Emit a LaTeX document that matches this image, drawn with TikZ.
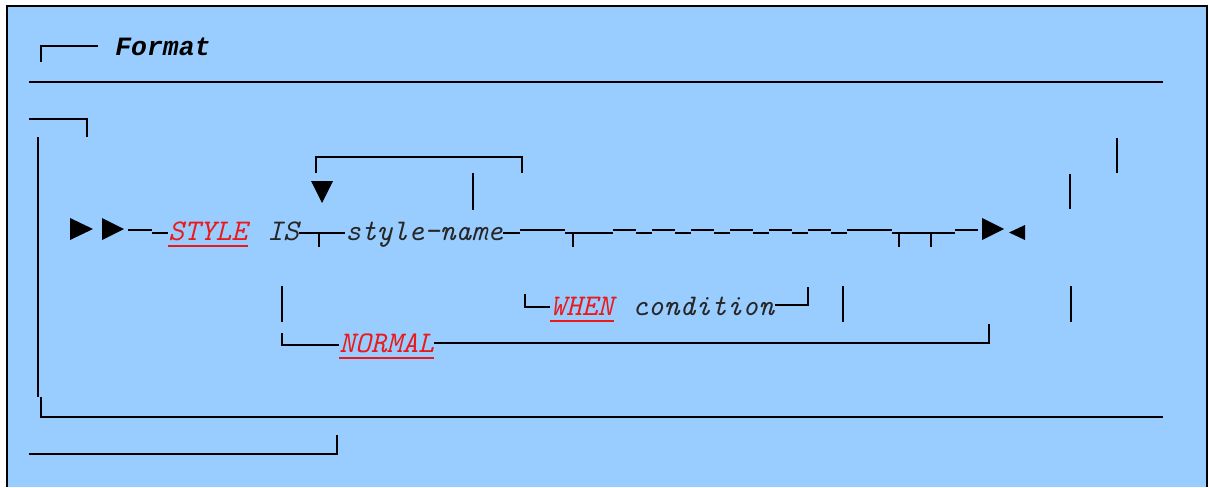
\documentclass[tikz,border=0pt]{standalone}
\usepackage{fontspec}
\newfontfamily\headfont{Liberation Mono}
\usepackage{xcolor}
\usetikzlibrary{calc}
\definecolor{panelblue}{RGB}{153,204,255}
\definecolor{kwred}{RGB}{235,25,25}

\begin{document}
\begin{tikzpicture}[x=0.5pt, y=-0.5pt,
    rail/.style={line width=1.45pt},
    tick/.style={line width=1.1pt},
    lbl/.style={inner sep=0pt, anchor=base west, text=black!85,
      font=\ttfamily\itshape\fontsize{15}{17}\selectfont},
    kw/.style={lbl, text=kwred},
    uline/.style={kwred, line width=0.8pt}]
  \useasboundingbox (0,0) rectangle (1209,487);
  \fill[panelblue] (7,6) rectangle (1207,487);
  \draw[line width=1pt] (7,487) -- (7,6) -- (1207,6) -- (1207,487);

  % heading
  \node[lbl, text=black, font=\headfont\bfseries\itshape\fontsize{13.2}{15}\selectfont] (fmt) at (115,55) {Format};
  \draw[rail] (41,62) -- (41,46) -- (98,46);
  \draw[rail] (29,82) -- (1163,82);
  \draw[rail] (29,119) -- (87,119) -- (87,137);
  \draw[rail] (38,137) -- (38,397);
  \draw[rail] (41,397) -- (41,417) -- (1163,417);
  \draw[rail] (29,454) -- (337,454) -- (337,435);

  % labels
  \node[kw] (kwstyle) at (168,240) {STYLE};
  \node[lbl] (kwis) at (267,240) {IS};
  \node[lbl] (stylename) at (345,240) {style-name};
  \node[kw] (kwwhen) at (550,315) {WHEN};
  \node[lbl] (cond) at (632,315) {condition};
  \node[kw] (kwnormal) at (339,352) {NORMAL};
  \foreach \n in {kwstyle, kwwhen, kwnormal}
    \draw[uline] ([yshift=-3pt]\n.base west) -- ([yshift=-3pt]\n.base east);

  % main line
  \fill (70,218) -- (93,229) -- (70,240) -- cycle;
  \fill (102,218) -- (124,229) -- (102,240) -- cycle;
  \draw[rail] (128,230) -- (152,230);
  \draw[rail] (152,233) -- (kwstyle.west |- 0,233);
  \draw[rail] (kwis.east |- 0,233) -- (stylename.west |- 0,233);
  \draw[tick] (319,233) -- (319,247);
  \draw[rail] (stylename.east |- 0,233) -- (520,233);
  \draw[rail] (520,230) -- (565,230);
  \draw[rail] (565,233) -- (613,233);
  \draw[tick] (573,233) -- (573,247);
  \foreach \k in {0,...,5} {
    \draw[rail] ({613+39*\k},230) -- ({636+39*\k},230);
    \draw[rail] ({636+39*\k},233) -- ({652+39*\k},233);
  }
  \draw[rail] (847,230) -- (892,230);
  \draw[rail] (892,233) -- (955,233);
  \draw[tick] (899,233) -- (899,247);
  \draw[tick] (931,233) -- (931,247);
  \draw[rail] (955,230) -- (978,230);
  \fill (982,218) -- (1004,229) -- (982,240) -- cycle;
  \fill (1025,225) -- (1009,232.5) -- (1025,240) -- cycle;

  % repeat loop
  \draw[rail] (316,173) -- (316,157) -- (522,157) -- (522,173);
  \fill (311,181) -- (333,181) -- (322,203) -- cycle;
  \draw[rail] (473,173) -- (473,210);

  % WHEN branch
  \draw[rail] (525,294) -- (525,307) -- (kwwhen.west |- 0,307);
  \draw[rail] (cond.east |- 0,305) -- (808,305) -- (808,287);

  % NORMAL branch
  \draw[rail] (282,333) -- (282,345) -- (kwnormal.west |- 0,345);
  \draw[rail] (kwnormal.east |- 0,343) -- (989,343) -- (989,324);

  % loose bars
  \draw[rail] (1117,138) -- (1117,173);
  \draw[rail] (1070,174) -- (1070,209);
  \draw[rail] (282,286) -- (282,322);
  \draw[rail] (843,286) -- (843,322);
  \draw[rail] (1071,286) -- (1071,322);
\end{tikzpicture}
\end{document}
